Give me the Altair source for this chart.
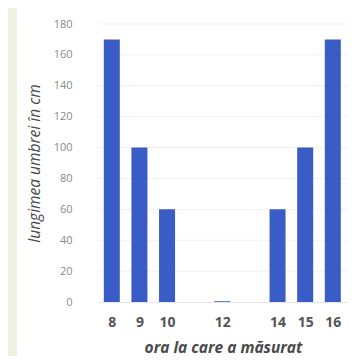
import altair as alt
import pandas as pd

hours = [8, 9, 10, 12, 14, 15, 16]
shadow_cm = [170, 100, 60, 0.5, 60, 100, 170]
y_ticks = [0, 20, 40, 60, 80, 100, 120, 140, 160, 180]

df = pd.DataFrame({"ora": hours, "lungime": shadow_cm})
grid_df = pd.DataFrame({"g": y_ticks[1:]})

xscale = alt.Scale(domain=[7.5, 16.55], nice=False, zero=False, padding=0)
yscale = alt.Scale(domain=[0, 180], nice=False)

yaxis = alt.Axis(
    values=y_ticks,
    title="lungimea umbrei în cm",
    titleFont="Open Sans",
    titleFontSize=15.5,
    titleFontStyle="italic",
    titleFontWeight="normal",
    titleColor="#4a4a4a",
    titleX=-56,
    labelFont="Open Sans",
    labelFontSize=11,
    labelColor="#8a8a8a",
    labelPadding=26,
    labelOverlap=False,
    ticks=False,
    domain=False,
    grid=False,
    zindex=1,
)

panel = alt.Chart(pd.DataFrame({"a": [0]})).mark_rect(color="white").encode(
    x=alt.value(-81), x2=alt.value(260), y=alt.value(-30), y2=alt.value(340)
)

grid = alt.Chart(grid_df).mark_rule(color="#f1f1f1", strokeWidth=1).encode(
    y=alt.Y("g:Q", scale=yscale, axis=yaxis)
)

bars = alt.Chart(df).mark_bar(size=16, color="#3a5cc6").encode(
    x=alt.X(
        "ora:Q",
        scale=xscale,
        axis=alt.Axis(
            values=hours,
            title="ora la care a măsurat",
            titleFont="Open Sans",
            titleFontSize=15.5,
            titleFontStyle="italic",
            titleFontWeight="bold",
            titleColor="#4a4a4a",
            titleBaseline="alphabetic",
            titleY=50,
            labelFont="Open Sans",
            labelFontSize=14,
            labelFontWeight="bold",
            labelColor="#555555",
            labelPadding=13,
            labelOverlap=False,
            ticks=False,
            grid=False,
            domainColor="#e6e6e6",
            zindex=1,
        ),
    ),
    y=alt.Y("lungime:Q", scale=yscale, axis=yaxis),
)

chart = (
    alt.layer(panel, grid, bars)
    .properties(
        width=250,
        height=278,
        background="#eef2df",
        padding={"left": 90, "top": 16, "right": 1, "bottom": 54},
        autosize=alt.AutoSizeParams(type="none"),
    )
    .configure_view(stroke=None)
)

chart.save("out.html", embed_options={"renderer": "svg", "actions": False})
